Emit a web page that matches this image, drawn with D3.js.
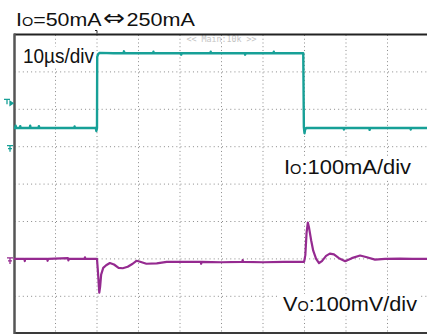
<!DOCTYPE html>
<html><head><meta charset="utf-8">
<script src="https://cdn.jsdelivr.net/npm/d3@7"></script>
<style>html,body{margin:0;padding:0;background:#fff;}svg{display:block;}</style>
</head><body>
<script>
// ---- data ----
// time axis in microseconds (10 µs/div, 10 divisions)
const timeDivs = d3.range(0, 101, 10);
// output current Io (mA) trace
const ioTime = [0,0.3,0.4,0.5,1.4,1.5,1.6,3.8,3.9,4.0,5.9,6.0,6.1,9,12,14.5,14.6,14.7,17,19.7,19.85,20.0,20.05,20.3,20.7,24,26.4,26.5,26.6,30,33.5,33.6,33.7,37,40.2,40.3,40.4,44,47.3,47.4,47.5,52,55.6,55.7,55.8,60,62.5,62.6,62.7,66,69.7,69.85,70.0,70.15,70.4,74,79.4,79.5,79.6,84,85.6,85.7,85.8,90,95.5,95.6,95.7,100];
const ioMa   = [50,50,56,50,50,55,50,50,56,50,50,55,50,50,50,50,54,50,50,50,42,50,240,248,251,250,250,255,250,250,250,254,250,250,250,246,250,250,250,254,250,250,250,246,250,250,250,254,250,250,250,52,36,46,50,50,50,46,50,50,50,45,50,50,50,46,50,50];
// output voltage deviation Vo (mV) trace
const voTime = [0,2.5,2.6,2.7,8,8.1,8.2,13,13.1,13.2,17,17.1,17.2,20.0,20.2,20.55,20.75,21.0,21.5,22.2,23.1,24.1,25.2,26.2,27.4,28.6,29.5,30.2,31.9,34.4,36.8,40,45,45.1,45.2,50,55,55.1,55.2,60,65,69.9,70.2,70.5,70.8,71.1,71.6,72.1,72.8,73.5,74.2,75.2,76.1,77.1,78.3,79.8,81.4,83.4,84.8,87,89.4,93,96,100];
const voMv   = [0,0,-6,0,0,-5,0,2,-4,0,0,4,0,0,-30,-90,-75,-42,-24,-17,-11,-15,-24,-25,-21,-13,-5,-7,-13,-12,-8,-8,-8,-13,-8,-9,-8,-3,-8,-9,-8,-8,10,70,97,83,50,22,0,-11,-6,8,14,12,2,-6,2,9,5,-2,0,1,0,0];
const ioTrigger = 120;   // mA, trigger level marker
const titleLeft = ["I", "O", "=50mA"];
const titleArrow = "\u21D4";
const titleRight = "250mA";
const timeLabel = "10\u00B5s/div";
const ioLabel = ["I", "O", ":100mA/div"];
const voLabel = ["V", "O", ":100mV/div"];
const menuLabel = "<< Main:10k >>";

// ---- layout ----
const W = 427, H = 334;
const L = 14, T = 34.5, DX = 41.5, DY = 37.4;
const R = L + 10 * DX, B = T + 8 * DY;
const teal = "#17a097", purple = "#952a90";

const x = d3.scaleLinear().domain([0, 100]).range([L, R]);
const yIo = d3.scaleLinear().domain([-500, 300]).range([B, T]);
const yVo = d3.scaleLinear().domain([-200, 600]).range([B, T]);
const yDiv = d3.scaleLinear().domain([0, 8]).range([T, B]);

const svg = d3.select("body").append("svg").attr("width", W).attr("height", H)
  .style("font-family", "'Liberation Sans', Arial, Helvetica, sans-serif");
svg.append("rect").attr("width", W).attr("height", H).attr("fill", "#fff");

// grid dotted lines
const g = svg.append("g");
g.selectAll("line.v").data(timeDivs.slice(1, -1)).join("line")
  .attr("x1", d => x(d)).attr("x2", d => x(d)).attr("y1", T).attr("y2", B)
  .attr("stroke", "#8a8a8a").attr("stroke-width", 1).attr("stroke-dasharray", `1,${DY/10-1}`)
  .attr("stroke-dashoffset", -0.5);
g.selectAll("line.h").data(d3.range(1, 8)).join("line")
  .attr("x1", L).attr("x2", R).attr("y1", d => yDiv(d)).attr("y2", d => yDiv(d))
  .attr("stroke", "#8a8a8a").attr("stroke-width", 1).attr("stroke-dasharray", `1,${DX/10-1}`)
  .attr("stroke-dashoffset", -0.5);

// menu text
svg.append("text").attr("x", x(50)).attr("y", 41.5).attr("text-anchor", "middle")
  .attr("font-family", "'DejaVu Sans Mono', monospace").attr("font-size", 8.3)
  .attr("fill", "#c4c4c4").text(menuLabel);

// frame
svg.append("line").attr("x1", L).attr("x2", W).attr("y1", T).attr("y2", T)
  .attr("stroke", "#222").attr("stroke-width", 2);
svg.append("line").attr("x1", L).attr("x2", W).attr("y1", B - 0.5).attr("y2", B - 0.5)
  .attr("stroke", "#3a3a3a").attr("stroke-width", 2.5);
svg.append("line").attr("x1", L + 0.5).attr("x2", L + 0.5).attr("y1", T - 1).attr("y2", H)
  .attr("stroke", "#555").attr("stroke-width", 2.5);
// trigger position marker
svg.append("path").attr("d", `M${x(20)-2},${T-4}h2v3`).attr("fill", "none")
  .attr("stroke", "#222").attr("stroke-width", 1);

// labels
function label(parts, px, py, size, subSize, len, boxed) {
  const t = svg.append("text").attr("x", px).attr("y", py).attr("font-size", size).attr("fill", "#111");
  t.append("tspan").text(parts[0]);
  t.append("tspan").attr("font-size", subSize).text(parts[1]);
  t.append("tspan").text(parts[2]);
  if (len) t.attr("textLength", len).attr("lengthAdjust", "spacingAndGlyphs");
  if (boxed) {
    const bb = t.node().getBBox();
    svg.insert("rect", "text").attr("x", bb.x - 3).attr("y", bb.y + 2).attr("width", bb.width + 6)
      .attr("height", bb.height - 1).attr("fill", "#fff");
  }
  return t;
}
// title
label(titleLeft, 16, 26, 18.5, 12.5, 85.5, false);
svg.append("text").attr("x", 103).attr("y", 25).attr("font-size", 21)
  .attr("font-family", "'DejaVu Sans', sans-serif").attr("fill", "#111")
  .attr("textLength", 22).attr("lengthAdjust", "spacingAndGlyphs").text(titleArrow);
svg.append("text").attr("x", 126.5).attr("y", 26).attr("font-size", 18.5).attr("fill", "#111")
  .attr("textLength", 68.5).attr("lengthAdjust", "spacingAndGlyphs").text(titleRight);

const tl = svg.append("text").attr("x", 23).attr("y", 62.5).attr("font-size", 19.5).attr("fill", "#111")
  .attr("textLength", 71).attr("lengthAdjust", "spacingAndGlyphs").text(timeLabel);
{ const bb = tl.node().getBBox();
  svg.insert("rect", "text").attr("x", bb.x - 3).attr("y", bb.y + 2).attr("width", bb.width + 5)
    .attr("height", bb.height - 1).attr("fill", "#fff"); }
label(ioLabel, 284, 174.3, 21, 14, 127, true);
label(voLabel, 283, 310.7, 21, 14, 134, true);

// channel markers
const mk = svg.append("g").attr("fill", "none").attr("stroke-width", 1.3);
mk.append("path").attr("d", `M4,${yIo(ioTrigger)-2.5}h6M7,${yIo(ioTrigger)-2.5}v5`).attr("stroke", teal);
mk.append("path").attr("d", `M10,${yIo(ioTrigger)-0.5}l3,2l-3,2z`).attr("fill", teal).attr("stroke", teal);
[[yIo(0), teal], [yVo(0), purple]].forEach(([yy, c]) => {
  mk.append("path").attr("d", `M7,${yy-1}h6M10,${yy-1}v6M8,${yy+2}h4`).attr("stroke", c);
});

// traces
const lineIo = d3.line().x((d, i) => x(ioTime[i])).y(d => yIo(d));
const lineVo = d3.line().x((d, i) => x(voTime[i])).y(d => yVo(d));
svg.append("path").attr("d", lineIo(ioMa)).attr("fill", "none").attr("stroke", teal)
  .attr("stroke-width", 2.4).attr("stroke-linejoin", "round");
svg.append("path").attr("d", lineVo(voMv)).attr("fill", "none").attr("stroke", purple)
  .attr("stroke-width", 2.2).attr("stroke-linejoin", "round");
</script>
</body></html>
